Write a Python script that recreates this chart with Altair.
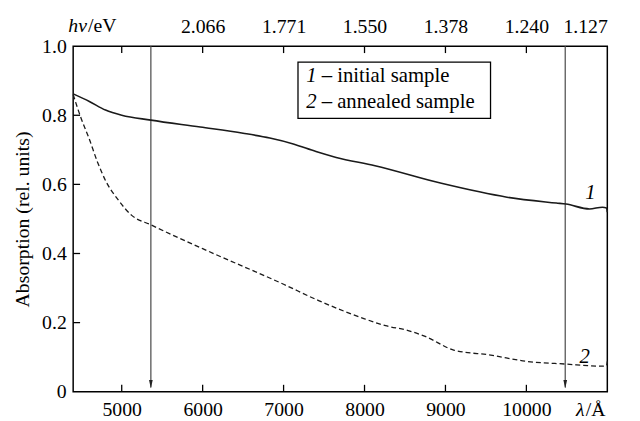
import altair as alt
import pandas as pd

# ---- data ----
wl_initial = [4400, 4600, 4800, 5000, 5360, 5970, 6500, 6830, 7120, 7400, 7650, 8130, 8950, 9760, 10370, 10490, 10780, 10940, 10990, 11000]
abs_initial = [0.862, 0.84, 0.815, 0.80, 0.786, 0.766, 0.748, 0.734, 0.717, 0.695, 0.678, 0.654, 0.603, 0.563, 0.546, 0.543, 0.529, 0.534, 0.532, 0.52]

wl_annealed = [4400, 4500, 4595, 4700, 4800, 4960, 5120, 5360, 6000, 7000, 7440, 8000, 8260, 8540, 8750, 9110, 9560, 10000, 10490, 10940, 10990, 11000]
abs_annealed = [0.86, 0.79, 0.734, 0.665, 0.611, 0.554, 0.511, 0.483, 0.414, 0.311, 0.263, 0.211, 0.191, 0.177, 0.16, 0.12, 0.106, 0.088, 0.08, 0.074, 0.076, 0.088]

x_ticks = [5000, 6000, 7000, 8000, 9000, 10000]
top_tick_values = [6000, 7000, 8000, 9000, 10000, 11000]
top_tick_labels = ["2.066", "1.771", "1.550", "1.378", "1.240", "1.127"]
y_ticks = [0, 0.2, 0.4, 0.6, 0.8, 1.0]
y_tick_labels = ["0", "0.2", "0.4", "0.6", "0.8", "1.0"]
y_inner_ticks = [0.2, 0.4, 0.6, 0.8]

arrow_wl = [5360, 10480]

legend_box = {"x": [7178], "x2": [9557], "y": [0.954], "y2": [0.791]}
legend_numbers = ["1", "2"]
legend_texts = ["\u2013 initial sample", "\u2013 annealed sample"]
legend_num_x = [7279, 7279]
legend_text_x = [7470, 7470]
legend_y = [0.895, 0.821]

curve_labels = ["1", "2"]
curve_label_x = [10790, 10720]
curve_label_y = [0.575, 0.10]

FONT = "Liberation Serif, Liberation Sans, sans-serif"
W, H = 541, 350

xscale = alt.Scale(domain=[4400, 11000], nice=False, zero=False)
yscale = alt.Scale(domain=[0, 1], nice=False, zero=False)

df1 = pd.DataFrame({"wl": wl_initial, "a": abs_initial})
df2 = pd.DataFrame({"wl": wl_annealed, "a": abs_annealed})


def js_key(v):
    s = repr(float(v))
    return s[:-2] if s.endswith(".0") else s


top_map = ", ".join(f"'{js_key(v)}': '{l}'" for v, l in zip(top_tick_values, top_tick_labels))
y_map = ", ".join(f"'{js_key(v)}': '{l}'" for v, l in zip(y_ticks, y_tick_labels))

line1 = alt.Chart(df1).mark_line(color="#1a1a1a", strokeWidth=1.6, interpolate="monotone").encode(
    x=alt.X("wl:Q", scale=xscale, axis=alt.Axis(
        values=x_ticks, format="d", title=None, domain=False, ticks=False, grid=False,
        labelFont=FONT, labelFontSize=20, labelColor="black", labelPadding=8, orient="bottom")),
    y=alt.Y("a:Q", scale=yscale, axis=alt.Axis(
        values=y_ticks, labelExpr=f"({{{y_map}}})[''+datum.value]", title="Absorption (rel. units)",
        domain=False, ticks=False, grid=False, labelOverlap=False,
        labelFont=FONT, labelFontSize=20, labelColor="black", labelPadding=7,
        titleFont=FONT, titleFontSize=20, titleFontWeight="normal", titleColor="black", titlePadding=9)),
)

line2 = alt.Chart(df2).mark_line(color="#1a1a1a", strokeWidth=1.3, strokeDash=[5, 3], interpolate="monotone").encode(
    x=alt.X("wl:Q", scale=xscale, axis=alt.Axis(
        values=top_tick_values, labelExpr=f"({{{top_map}}})[''+datum.value]", title=None,
        domain=False, ticks=False, grid=False, orient="top", labelOverlap=False,
        labelFont=FONT, labelFontSize=20, labelColor="black", labelPadding=10)),
    y=alt.Y("a:Q", scale=yscale, axis=None),
)

# inward ticks
tick_df = pd.DataFrame({"t": x_ticks})
bottom_ticks = alt.Chart(tick_df).mark_rule(color="black", strokeWidth=1.3).encode(
    x=alt.X("t:Q", scale=xscale, axis=None), y=alt.value(H), y2=alt.value(H - 7))
top_ticks = alt.Chart(tick_df).mark_rule(color="black", strokeWidth=1.3).encode(
    x=alt.X("t:Q", scale=xscale, axis=None), y=alt.value(0), y2=alt.value(7))
ytick_df = pd.DataFrame({"t": y_inner_ticks})
left_ticks = alt.Chart(ytick_df).mark_rule(color="black", strokeWidth=1.3).encode(
    y=alt.Y("t:Q", scale=yscale, axis=None), x=alt.value(0), x2=alt.value(7))

# arrows
arr_df = pd.DataFrame({"wl": arrow_wl, "top": [1.0, 1.0], "bot": [0.012, 0.012], "head": [0.022, 0.022]})
arrow_lines = alt.Chart(arr_df).mark_rule(color="#555555", strokeWidth=1.3).encode(
    x=alt.X("wl:Q", scale=xscale, axis=None),
    y=alt.Y("top:Q", scale=yscale, axis=None), y2="bot:Q")
arrow_heads = alt.Chart(arr_df).mark_point(
    shape="M-0.45,-1L0.45,-1L0,1Z", filled=True, size=70, color="#222222", opacity=1).encode(
    x=alt.X("wl:Q", scale=xscale, axis=None),
    y=alt.Y("head:Q", scale=yscale, axis=None))

# legend box
box = alt.Chart(pd.DataFrame(legend_box)).mark_rect(fill="white", stroke="black", strokeWidth=1.3).encode(
    x=alt.X("x:Q", scale=xscale, axis=None), x2="x2:Q",
    y=alt.Y("y:Q", scale=yscale, axis=None), y2="y2:Q")
leg_df = pd.DataFrame({"n": legend_numbers, "t": legend_texts, "nx": legend_num_x, "tx": legend_text_x, "y": legend_y})
leg_nums = alt.Chart(leg_df).mark_text(font=FONT, fontSize=21, fontStyle="italic", align="left",
                                       baseline="alphabetic", color="black").encode(
    x=alt.X("nx:Q", scale=xscale, axis=None), y=alt.Y("y:Q", scale=yscale, axis=None), text="n:N")
leg_txt = alt.Chart(leg_df).mark_text(font=FONT, fontSize=21, align="left",
                                      baseline="alphabetic", color="black").encode(
    x=alt.X("tx:Q", scale=xscale, axis=None), y=alt.Y("y:Q", scale=yscale, axis=None), text="t:N")

# curve labels
cl_df = pd.DataFrame({"t": curve_labels, "x": curve_label_x, "y": curve_label_y})
curve_txt = alt.Chart(cl_df).mark_text(font=FONT, fontSize=21, fontStyle="italic", align="center",
                                       baseline="middle", color="black").encode(
    x=alt.X("x:Q", scale=xscale, axis=None), y=alt.Y("y:Q", scale=yscale, axis=None), text="t:N")

# axis unit labels (hv/eV on top, lambda/A at bottom)
unit_df = pd.DataFrame({
    "t1": ["h\u03bd", "\u03bb"], "t2": ["/eV", "/\u00c5"],
    "x": [4571, 10720], "y": [1.04, -0.071]})
unit1 = alt.Chart(unit_df).mark_text(font=FONT, fontSize=20, fontStyle="italic", align="right",
                                     baseline="alphabetic", color="black").encode(
    x=alt.X("x:Q", scale=xscale, axis=None), y=alt.Y("y:Q", scale=yscale, axis=None), text="t1:N")
unit2 = alt.Chart(unit_df).mark_text(font=FONT, fontSize=20, align="left",
                                     baseline="alphabetic", color="black", dx=1).encode(
    x=alt.X("x:Q", scale=xscale, axis=None), y=alt.Y("y:Q", scale=yscale, axis=None), text="t2:N")

chart = alt.layer(
    arrow_lines, arrow_heads, line1, line2, bottom_ticks, top_ticks, left_ticks,
    box, leg_nums, leg_txt, curve_txt, unit1, unit2
).resolve_axis(x="independent", y="independent").properties(
    width=W, height=H,
    autosize=alt.AutoSizeParams(type="none"),
    padding={"left": 66, "top": 36, "right": 25, "bottom": 27},
).configure(
    background="white",
    view=alt.ViewConfig(stroke="black", strokeWidth=1.5),
    font=FONT,
)

chart.save("out.html", embed_options={"renderer": "svg", "actions": False})
